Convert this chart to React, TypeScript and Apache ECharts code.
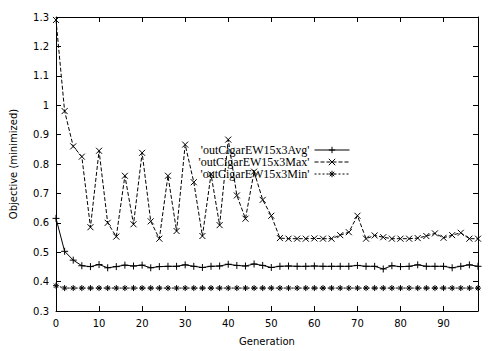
import React, { useEffect, useRef } from "react";
import * as echarts from "echarts";

const generations = [0, 2, 4, 6, 8, 10, 12, 14, 16, 18, 20, 22, 24, 26, 28, 30, 32, 34, 36, 38, 40, 42, 44, 46, 48, 50, 52, 54, 56, 58, 60, 62, 64, 66, 68, 70, 72, 74, 76, 78, 80, 82, 84, 86, 88, 90, 92, 94, 96, 98];

const avgValues = [0.615, 0.503, 0.473, 0.454, 0.451, 0.458, 0.447, 0.451, 0.456, 0.453, 0.456, 0.447, 0.451, 0.452, 0.452, 0.457, 0.452, 0.448, 0.452, 0.453, 0.459, 0.455, 0.453, 0.46, 0.455, 0.448, 0.452, 0.453, 0.452, 0.452, 0.453, 0.452, 0.452, 0.452, 0.452, 0.455, 0.452, 0.452, 0.443, 0.454, 0.451, 0.452, 0.457, 0.452, 0.452, 0.452, 0.447, 0.452, 0.457, 0.452];

const maxValues = [1.29, 0.98, 0.86, 0.825, 0.585, 0.845, 0.6, 0.553, 0.76, 0.595, 0.838, 0.605, 0.546, 0.76, 0.572, 0.866, 0.738, 0.555, 0.765, 0.592, 0.883, 0.693, 0.614, 0.774, 0.678, 0.624, 0.548, 0.546, 0.546, 0.546, 0.547, 0.546, 0.546, 0.558, 0.568, 0.624, 0.546, 0.557, 0.551, 0.546, 0.546, 0.546, 0.548, 0.555, 0.564, 0.549, 0.558, 0.566, 0.546, 0.546];

const minValues = [0.386, 0.378, 0.378, 0.378, 0.378, 0.378, 0.378, 0.378, 0.378, 0.378, 0.378, 0.378, 0.378, 0.378, 0.378, 0.378, 0.378, 0.378, 0.378, 0.378, 0.378, 0.378, 0.378, 0.378, 0.378, 0.378, 0.378, 0.378, 0.378, 0.378, 0.378, 0.378, 0.378, 0.378, 0.378, 0.378, 0.378, 0.378, 0.378, 0.378, 0.378, 0.378, 0.378, 0.378, 0.378, 0.378, 0.378, 0.378, 0.378, 0.378];

const seriesNames = ["'outCigarEW15x3Avg'", "'outCigarEW15x3Max'", "'outCigarEW15x3Min'"];

const plusSym = "path://M0,5L10,5M5,0L5,10";
const crossSym = "path://M0,0L10,10M10,0L0,10";
const starSym = "path://M0,5L10,5M5,0L5,10M1.5,1.5L8.5,8.5M8.5,1.5L1.5,8.5";

const axisFont = "DejaVu Sans";

export default function App() {
  const ref = useRef<HTMLDivElement>(null);
  useEffect(() => {
    if (!ref.current) return;
    const chart = echarts.init(ref.current, null, { renderer: "svg" });
    const pairs = (vals: number[]) => generations.map((g, i) => [g, vals[i]]);
    const mkSeries = (name: string, vals: number[], sym: string, type: any, size: number) => ({
      name,
      type: "line",
      data: pairs(vals),
      symbol: sym,
      symbolSize: size,
      showSymbol: true,
      lineStyle: { color: "#000", width: 1, type },
      itemStyle: { color: "#000", borderColor: "#000", borderWidth: 1 },
      emphasis: { disabled: true },
    });
    const commonX = {
      type: "value",
      min: 0,
      max: 98,
      interval: 10,
      splitLine: { show: false },
      axisLine: { show: true, onZero: false, lineStyle: { color: "#000", width: 1 } },
      axisTick: { show: true, inside: true, length: 5, lineStyle: { color: "#000" } },
    };
    const commonY = {
      type: "value",
      min: 0.3,
      max: 1.3,
      interval: 0.1,
      splitLine: { show: false },
      axisLine: { show: true, onZero: false, lineStyle: { color: "#000", width: 1 } },
      axisTick: { show: true, inside: true, length: 5, lineStyle: { color: "#000" } },
    };
    chart.setOption({
      animation: false,
      backgroundColor: "#fff",
      grid: { left: 56, right: 23, top: 17, bottom: 37, containLabel: false },
      legend: {
        orient: "vertical",
        right: 151,
        top: 144,
        align: "right",
        padding: 0,
        itemGap: 0,
        itemWidth: 35,
        itemHeight: 8,
        selectedMode: false,
        lineStyle: { width: 1 },
        itemStyle: { borderWidth: 1 },
        textStyle: { fontFamily: "Liberation Serif", fontSize: 12, color: "#000", lineHeight: 12 },
        data: seriesNames,
      },
      xAxis: [
        {
          ...commonX,
          position: "bottom",
          name: "Generation",
          nameLocation: "middle",
          nameGap: 25,
          nameTextStyle: { fontFamily: axisFont, fontSize: 10, color: "#000" },
          axisLabel: { show: true, showMaxLabel: false, margin: 7, fontFamily: axisFont, fontSize: 10, color: "#000" },
        },
        {
          ...commonX,
          position: "top",
          axisLabel: { show: false },
        },
      ],
      yAxis: [
        {
          ...commonY,
          position: "left",
          name: "Objective (minimized)",
          nameLocation: "middle",
          nameGap: 38,
          nameTextStyle: { fontFamily: axisFont, fontSize: 10, color: "#000" },
          axisLabel: {
            show: true,
            margin: 7,
            fontFamily: axisFont,
            fontSize: 10,
            color: "#000",
            formatter: (v: number) => String(Math.round(v * 10) / 10),
          },
        },
        {
          ...commonY,
          position: "right",
          axisLabel: { show: false },
        },
      ],
      series: [
        mkSeries(seriesNames[0], avgValues, plusSym, "solid", 7),
        mkSeries(seriesNames[1], maxValues, crossSym, [4, 2], 6),
        mkSeries(seriesNames[2], minValues, starSym, [2, 2], 6),
      ],
    });
    return () => chart.dispose();
  }, []);
  return (
    <div
      ref={ref}
      style={{ position: "absolute", left: 0, top: 0, width: 501, height: 351, background: "#fff" }}
    />
  );
}
